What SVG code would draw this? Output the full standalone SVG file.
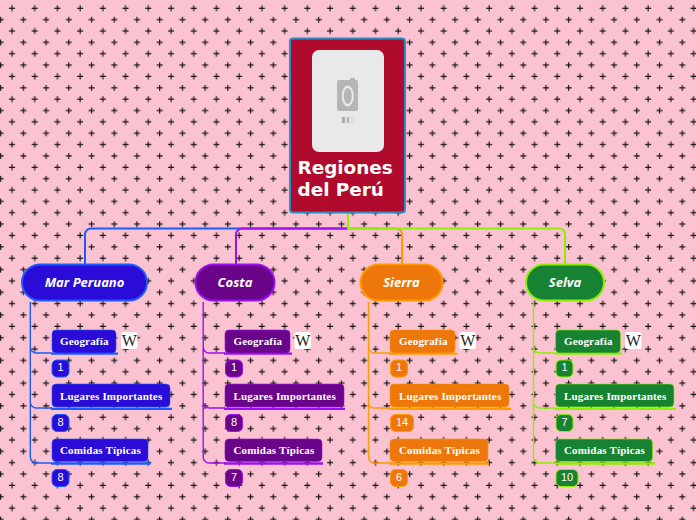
<svg xmlns="http://www.w3.org/2000/svg" width="696" height="520" viewBox="0 0 696 520">
<defs>
<pattern id="bg" width="22.72" height="22.72" patternUnits="userSpaceOnUse">
<path d="M9 8.300h6M12 5.300v6M-2.330 19.670h6M.67 16.670v6M20.390 19.670h6M23.390 16.670v6" stroke="#111" stroke-width="1.100" fill="none"/>
</pattern>
<g id="wiki"><rect width="16.500" height="17" rx="2.500" fill="#fff"/><text x="8.250" y="14" text-anchor="middle" class="w">W</text></g>
</defs>
<style>
.main{font:italic bold 13px "Open Sans","DejaVu Sans",sans-serif;fill:#fff;text-anchor:middle}
.sub{font:bold 11px "Liberation Serif",serif;fill:#fff;letter-spacing:.17px}
.n{font:11px "Liberation Sans",sans-serif;fill:#fff;text-anchor:middle}
.w{font:16px "Liberation Serif",serif;fill:#222}
.t{font:bold 18.400px "DejaVu Sans",sans-serif;fill:#fff}
.c{fill:none;stroke-linecap:butt}
.blue .f{fill:#2a0bd8;stroke:#1a5cff}
.purple .f{fill:#6a0488;stroke:#9a10f0}
.orange .f{fill:#ee770c;stroke:#ff9a00}
.green .f{fill:#178232;stroke:#8cf000}
.sb{stroke-width:.6}
.n1{stroke-width:1}
.v{stroke-width:1.400}
.u{stroke-width:2.300}
</style>
<rect width="696" height="520" fill="#fbc3d1"/>
<rect width="696" height="520" fill="url(#bg)"/>
<g id="connectors" class="c">
<path d="M348 228.500H91a6 6 0 0 0-6 6V264" stroke="#1a5cff" stroke-width="2"/>
<path d="M348 228.500H242a6 6 0 0 0-6 6V264" stroke="#9a10f0" stroke-width="2"/>
<path d="M348 228.500H396a6 6 0 0 1 6 6V264" stroke="#ff9a00" stroke-width="2"/>
<path d="M348 212V228.500H559a6 6 0 0 1 6 6V264" stroke="#8cf000" stroke-width="2"/>
<g stroke="#1a5cff"><path class="v" d="M30.300 302V347a6 6 0 0 0 6 6H52M30.300 347V402a6 6 0 0 0 6 6H52M30.300 402V457a6 6 0 0 0 6 6H52"/><path class="u" d="M51 353.700H118M51 408.800H172M51 463.500H150.500"/></g>
<g stroke="#9a10f0"><path class="v" d="M203.200 302V347a6 6 0 0 0 6 6H225M203.200 347V402a6 6 0 0 0 6 6H225M203.200 402V457a6 6 0 0 0 6 6H225"/><path class="u" d="M224 353.700H292M224 408.800H345M224 463.500H323"/></g>
<g stroke="#ff9a00"><path class="v" d="M368.500 302V347a6 6 0 0 0 6 6H390M368.500 347V402a6 6 0 0 0 6 6H390M368.500 402V457a6 6 0 0 0 6 6H390"/><path class="u" d="M389 353.700H457M389 408.800H511M389 463.500H489"/></g>
<g stroke="#8cf000"><path class="v" d="M533.500 302V347a6 6 0 0 0 6 6H555M533.500 347V402a6 6 0 0 0 6 6H555M533.500 402V457a6 6 0 0 0 6 6H555"/><path class="u" d="M555 353.700H622M555 408.800H676M555 463.500H655"/></g>
</g>
<g id="root">
<rect x="290" y="38.500" width="115" height="174" rx="3" fill="#b00b2c" stroke="#2a8fc4" stroke-width="2"/>
<rect x="312" y="50" width="72" height="102" rx="7" fill="#e8e9eb"/>
<rect x="337" y="80" width="21" height="31" rx="2" fill="#b4b5b7"/><rect x="350" y="78" width="5" height="4" fill="#b4b5b7"/>
<ellipse cx="347.800" cy="96" rx="6" ry="10.500" fill="#e8e9eb"/><ellipse cx="347.800" cy="96" rx="4" ry="8" fill="#b4b5b7"/>
<rect x="342" y="117" width="3" height="6" fill="#aaa"/><rect x="346.500" y="117" width="3" height="6" fill="#bbb"/><rect x="351" y="117" width="2.500" height="6" fill="#ddd"/>
<text class="t" x="297.500" y="173.500">Regiones</text><text class="t" x="297.500" y="195.500">del Perú</text>
</g>
<g id="mar" class="blue">
<rect class="f" x="22" y="264.500" width="125" height="36" rx="18" stroke-width="2"/><text class="main" x="84.500" y="287">Mar Peruano</text>
<rect class="f sb" x="52" y="330" width="64" height="23" rx="4"/><text class="sub" x="60" y="345">Geografía</text><use href="#wiki" x="121" y="332"/>
<rect class="f n1" x="52" y="360" width="17" height="17" rx="5"/><text class="n" x="60.500" y="371">1</text>
<rect class="f sb" x="52" y="384" width="118" height="23" rx="4"/><text class="sub" x="60" y="400">Lugares Importantes</text>
<rect class="f n1" x="52" y="414.500" width="17" height="17" rx="5"/><text class="n" x="60.500" y="425.500">8</text>
<rect class="f sb" x="52" y="439" width="96" height="22.500" rx="4"/><text class="sub" x="60" y="454">Comidas Típicas</text>
<rect class="f n1" x="52" y="469.500" width="17" height="17" rx="5"/><text class="n" x="60.500" y="480.500">8</text>
</g>
<g id="costa" class="purple">
<rect class="f" x="195.500" y="264.500" width="79" height="36" rx="18" stroke-width="2"/><text class="main" x="235" y="287">Costa</text>
<rect class="f sb" x="225" y="330" width="65" height="23" rx="4"/><text class="sub" x="233.500" y="345">Geografía</text><use href="#wiki" x="294.500" y="332"/>
<rect class="f n1" x="225.500" y="360" width="17" height="17" rx="5"/><text class="n" x="234" y="371">1</text>
<rect class="f sb" x="225" y="384" width="119" height="23" rx="4"/><text class="sub" x="233.500" y="400">Lugares Importantes</text>
<rect class="f n1" x="225.500" y="414.500" width="17" height="17" rx="5"/><text class="n" x="234" y="425.500">8</text>
<rect class="f sb" x="225" y="439" width="97" height="22.500" rx="4"/><text class="sub" x="233.500" y="454">Comidas Típicas</text>
<rect class="f n1" x="225.500" y="469.500" width="17" height="17" rx="5"/><text class="n" x="234" y="480.500">7</text>
</g>
<g id="sierra" class="orange">
<rect class="f" x="360.500" y="264.500" width="82" height="36" rx="18" stroke-width="2"/><text class="main" x="401.500" y="287">Sierra</text>
<rect class="f sb" x="390" y="330" width="65" height="23" rx="4"/><text class="sub" x="399" y="345">Geografía</text><use href="#wiki" x="459.500" y="332"/>
<rect class="f n1" x="390.500" y="360" width="17" height="17" rx="5"/><text class="n" x="399" y="371">1</text>
<rect class="f sb" x="390" y="384" width="119" height="23" rx="4"/><text class="sub" x="399" y="400">Lugares Importantes</text>
<rect class="f n1" x="390.500" y="414.500" width="23" height="17" rx="5"/><text class="n" x="402" y="425.500">14</text>
<rect class="f sb" x="390" y="439" width="98" height="22.500" rx="4"/><text class="sub" x="399" y="454">Comidas Típicas</text>
<rect class="f n1" x="390.500" y="469.500" width="17" height="17" rx="5"/><text class="n" x="399" y="480.500">6</text>
</g>
<g id="selva" class="green">
<rect class="f" x="526" y="264.500" width="78" height="36" rx="18" stroke-width="2"/><text class="main" x="565" y="287">Selva</text>
<rect class="f sb" x="555.500" y="330" width="65" height="23" rx="4"/><text class="sub" x="564" y="345">Geografía</text><use href="#wiki" x="625" y="332"/>
<rect class="f n1" x="556" y="360" width="17" height="17" rx="5"/><text class="n" x="564.500" y="371">1</text>
<rect class="f sb" x="555.500" y="384" width="118.500" height="23" rx="4"/><text class="sub" x="564" y="400">Lugares Importantes</text>
<rect class="f n1" x="556" y="414.500" width="17" height="17" rx="5"/><text class="n" x="564.500" y="425.500">7</text>
<rect class="f sb" x="555.500" y="439" width="97" height="22.500" rx="4"/><text class="sub" x="564" y="454">Comidas Típicas</text>
<rect class="f n1" x="556" y="469.500" width="22" height="17" rx="5"/><text class="n" x="567" y="480.500">10</text>
</g>
</svg>
